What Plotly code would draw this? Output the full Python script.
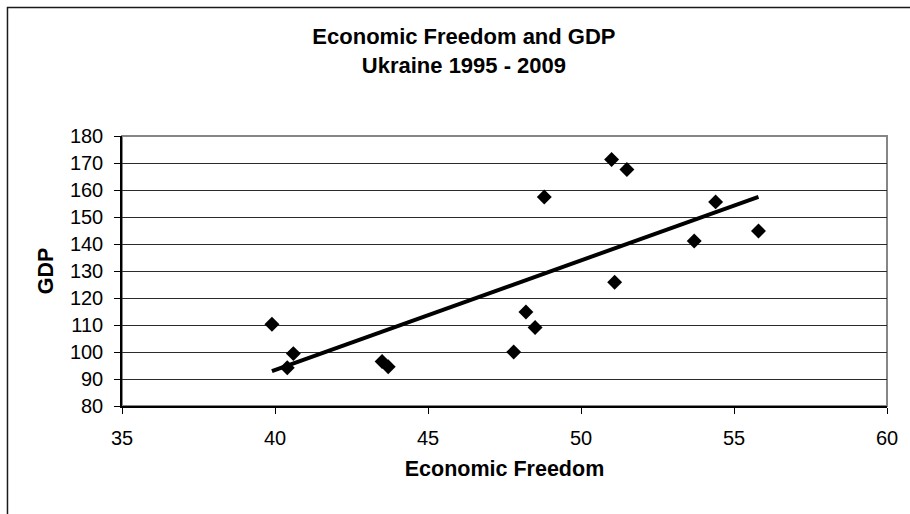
import numpy as np
import plotly.graph_objects as go

# Ukraine, 1995-2009: Index of Economic Freedom score vs. GDP index
economic_freedom = [39.9, 40.6, 40.4, 43.5, 43.7, 47.8, 48.2, 48.5, 48.8,
                    51.0, 51.5, 51.1, 53.7, 54.4, 55.8]
gdp = [110.3, 99.4, 94.2, 96.5, 94.5, 100.0, 114.8, 109.1, 157.4,
       171.3, 167.6, 125.8, 141.1, 155.6, 144.8]

x_ticks = [35, 40, 45, 50, 55, 60]
y_ticks = [80, 90, 100, 110, 120, 130, 140, 150, 160, 170, 180]

# Least-squares linear trend across the observed range
slope, intercept = np.polyfit(economic_freedom, gdp, 1)
trend_x = [min(economic_freedom), max(economic_freedom)]
trend_y = [slope * v + intercept for v in trend_x]

FONT = "Liberation Sans, Arial, sans-serif"

fig = go.Figure()
fig.add_trace(go.Scatter(
    x=economic_freedom, y=gdp, mode="markers",
    marker=dict(symbol="diamond", size=11.5, color="#000000",
                line=dict(width=0)),
    showlegend=False,
))
fig.add_trace(go.Scatter(
    x=trend_x, y=trend_y, mode="lines",
    line=dict(color="#000000", width=4),
    showlegend=False,
))

fig.update_layout(
    width=910, height=514,
    margin=dict(l=122, r=23, t=136, b=108),
    paper_bgcolor="white", plot_bgcolor="white",
    font=dict(family=FONT, color="#000000"),
    title=dict(
        text="<b>Economic Freedom and GDP<br>Ukraine 1995 - 2009</b>",
        font=dict(size=22, family=FONT, color="#000000"),
        x=0.447, xref="paper", xanchor="center",
        y=1 - 44 / 514, yref="container", yanchor="middle",
    ),
    xaxis=dict(
        range=[35, 60], tickvals=x_ticks, ticktext=[str(v) for v in x_ticks],
        showgrid=False, zeroline=False,
        showline=True, linecolor="#000000", linewidth=1.5,
        ticks="outside", ticklen=6, tickcolor="#000000", tickwidth=1,
        tickfont=dict(size=20, family=FONT, color="#000000"),
        ticklabelstandoff=7,
        title=dict(text="<b>Economic Freedom</b>", standoff=13,
                   font=dict(size=21.5, family=FONT, color="#000000")),
    ),
    yaxis=dict(
        range=[80, 180], tickvals=y_ticks, ticktext=[str(v) for v in y_ticks],
        showgrid=True, gridcolor="#2b2b2b", gridwidth=1, zeroline=False,
        showline=True, linecolor="#000000", linewidth=1.5,
        ticks="outside", ticklen=6, tickcolor="#000000", tickwidth=1,
        tickfont=dict(size=20, family=FONT, color="#000000"),
        ticklabelstandoff=7,
        title=dict(text="<b>GDP</b>", standoff=10,
                   font=dict(size=21.5, family=FONT, color="#000000")),
    ),
    shapes=[
        # plot-area border
        dict(type="rect", xref="paper", yref="paper", x0=0, x1=1, y0=0, y1=1,
             line=dict(color="#868686", width=2), layer="between"),
        # chart-area border
        dict(type="rect", xref="paper", yref="paper",
             x0=-0.1497, x1=1.5, y0=-1.0, y1=1 + (136 - 7.5) / 270,
             line=dict(color="#1a1a1a", width=1.5), layer="below"),
    ],
)

fig.write_html("out.html")
